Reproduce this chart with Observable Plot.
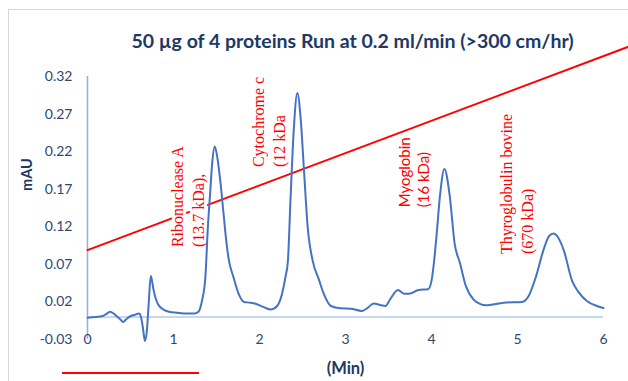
<!DOCTYPE html>
<html>
<head>
<meta charset="utf-8">
<script src="https://cdn.jsdelivr.net/npm/d3@7"></script>
<script src="https://cdn.jsdelivr.net/npm/@observablehq/plot@0.6"></script>
<style>
  html, body { margin: 0; padding: 0; background: #fff; overflow: hidden; }
  #wrap { position: relative; width: 628px; height: 381px; }
  #frame { position: absolute; left: 8px; top: 9px; width: 700px; height: 500px; border: 1px solid #d9d9d9; box-sizing: border-box; }
  #redbar { position: absolute; left: 62px; top: 372px; width: 137px; height: 2px; background: #ff0000; }
  #chart { position: absolute; left: 0; top: 0; }
</style>
</head>
<body>
<div id="wrap">
  <div id="frame"></div>
  <div id="chart"></div>
  <div id="redbar"></div>
</div>
<script>
const titleText = "50 µg of 4 proteins Run at 0.2 ml/min (>300 cm/hr)";
const yLabel = "mAU";
const xLabel = "(Min)";
const yTicks = [-0.03, 0.02, 0.07, 0.12, 0.17, 0.22, 0.27, 0.32];
const xTicks = [0, 1, 2, 3, 4, 5, 6];

// Chromatogram (time in min, absorbance in mAU)
const time = [0.00,0.10,0.17,0.22,0.26,0.30,0.33,0.38,0.415,0.45,0.49,0.55,0.60,0.62,0.645,0.667,0.69,0.71,0.736,0.75,0.77,0.82,0.89,0.95,1.04,1.15,1.24,1.29,1.33,1.37,1.40,1.425,1.45,1.48,1.51,1.545,1.58,1.61,1.64,1.70,1.76,1.82,1.895,1.97,2.05,2.13,2.205,2.26,2.30,2.33,2.36,2.40,2.44,2.48,2.52,2.56,2.62,2.69,2.75,2.83,2.94,3.06,3.19,3.25,3.33,3.40,3.465,3.52,3.61,3.68,3.74,3.85,3.96,4.00,4.03,4.06,4.10,4.15,4.21,4.27,4.33,4.40,4.49,4.57,4.63,4.84,5.05,5.13,5.21,5.31,5.37,5.42,5.47,5.54,5.635,5.71,5.81,5.925,6.00];
const absorbance = [-0.001,0.000,0.001,0.004,0.007,0.005,0.002,-0.003,-0.0066,-0.003,0.0004,0.003,0.0045,0.001,-0.015,-0.032,-0.019,0.015,0.0545,0.048,0.035,0.017,0.0093,0.007,0.0057,0.0045,0.0045,0.007,0.021,0.052,0.12,0.163,0.205,0.227,0.212,0.180,0.140,0.105,0.078,0.052,0.030,0.020,0.019,0.017,0.013,0.010,0.0146,0.030,0.052,0.074,0.155,0.252,0.298,0.262,0.190,0.120,0.074,0.050,0.030,0.0146,0.0115,0.011,0.008,0.0115,0.018,0.016,0.0146,0.0236,0.036,0.031,0.031,0.036,0.037,0.048,0.074,0.110,0.163,0.197,0.163,0.097,0.072,0.041,0.023,0.017,0.0155,0.019,0.020,0.028,0.052,0.092,0.108,0.111,0.106,0.088,0.048,0.033,0.021,0.0146,0.012];

// Gradient line (red)
const gradientTime = [0, 6.3];
const gradientValue = [0.089, 0.36];

// Peak annotations
const peakNames = ["Ribonuclease A\n(13.7 kDa),", "Cytochrome c\n(12 kDa", "Myoglobin\n(16 kDa)", "Thyroglobulin bovine\n(670 kDa)"];
const peakLabelTime = [1.157, 2.099, 3.785, 4.977];
const peakLabelValue = [0.093, 0.1995, 0.146, 0.0838];
const peakLabelSerif = [true, true, false, true];

const chrom = time.map((t, i) => ({t, v: absorbance[i]}));
const grad = gradientTime.map((t, i) => ({t, v: gradientValue[i]}));
const labels = peakNames.map((name, i) => ({name, t: peakLabelTime[i], v: peakLabelValue[i], serif: peakLabelSerif[i]}));

const ink = "#203864";
const tickInk = "#2f4675";

const plot = Plot.plot({
  width: 628,
  height: 381,
  marginLeft: 87,
  marginRight: 25,
  marginTop: 76,
  marginBottom: 42,
  x: {domain: [0, 6], axis: null},
  y: {domain: [-0.03, 0.32], axis: null},
  style: {fontFamily: "Lato, sans-serif", background: "transparent", overflow: "visible"},
  marks: [
    Plot.ruleY([0], {x1: 0, x2: 6, stroke: "#c5d8f0", strokeWidth: 2}),
    Plot.ruleX([0], {y1: -0.03, y2: 0.32, stroke: "#8fb0e0", strokeWidth: 1.5}),
    Plot.line(grad, {x: "t", y: "v", stroke: "#ff0000", strokeWidth: 2, clip: false}),
    Plot.text(labels.filter(d => d.serif), {
      x: "t", y: "v", text: "name", rotate: -90, textAnchor: "start", lineAnchor: "middle",
      lineHeight: 1.3, fontSize: 16, fontFamily: "Liberation Serif, serif", fill: "#ff0000",
      stroke: "white", strokeWidth: 6
    }),
    Plot.text(labels.filter(d => !d.serif), {
      x: "t", y: "v", text: "name", rotate: -90, textAnchor: "start", lineAnchor: "middle",
      lineHeight: 1.3, fontSize: 15, fontFamily: "Lato, sans-serif", fill: "#ff0000",
      stroke: "white", strokeWidth: 5
    }),
    Plot.line(chrom, {x: "t", y: "v", stroke: "#4472c4", strokeWidth: 2, curve: "monotone-x"}),
    Plot.text(yTicks, {frameAnchor: "left", y: d => d, text: d => d.toFixed(2), textAnchor: "end", dx: -15, fontSize: 14, fill: tickInk}),
    Plot.text(xTicks, {frameAnchor: "bottom", x: d => d, text: d => String(d), lineAnchor: "middle", dy: 0, fontSize: 14, fill: tickInk}),
    Plot.text([titleText], {frameAnchor: "top", dx: 7, dy: -35, lineAnchor: "middle", fontSize: 19.5, fontWeight: "bold", fill: ink}),
    Plot.text([yLabel], {frameAnchor: "left", dx: -60, dy: -17, rotate: -90, lineAnchor: "middle", fontSize: 14.5, fontWeight: "bold", fill: ink}),
    Plot.text([xLabel], {frameAnchor: "bottom", dx: 0, dy: 29, lineAnchor: "middle", fontSize: 16.5, fontWeight: "bold", fill: ink})
  ]
});
document.getElementById("chart").appendChild(plot);
</script>
</body>
</html>
